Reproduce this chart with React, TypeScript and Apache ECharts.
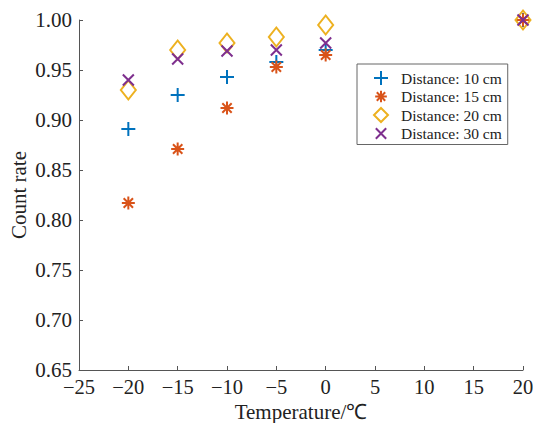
import React, { useEffect, useRef } from "react";
import * as echarts from "echarts";

const temperatures = [-20, -15, -10, -5, 0, 20];
const dist10 = [0.891, 0.925, 0.943, 0.958, 0.970, 1.0];
const dist15 = [0.817, 0.871, 0.912, 0.953, 0.965, 1.0];
const dist20 = [0.930, 0.970, 0.977, 0.983, 0.995, 1.0];
const dist30 = [0.940, 0.961, 0.969, 0.970, 0.977, 1.0];
const seriesNames = ["Distance: 10 cm", "Distance: 15 cm", "Distance: 20 cm", "Distance: 30 cm"];
const colors = ["#0072BD", "#D95319", "#EDB120", "#7E2F8E"];

const PLUS = "path://M0,-1L0,1M-1,0L1,0";
const STAR = "path://M0,-1L0,1M-1,0L1,0M-0.72,-0.72L0.72,0.72M-0.72,0.72L0.72,-0.72";
const DIAMOND = "path://M0,-1.3L1,0L0,1.3L-1,0Z";
const CROSS = "path://M-1,-1L1,1M-1,1L1,-1";
// legend icons (padded with invisible move-to points to get smaller marks)
const STAR_L = "path://M-1.2,-1.2M1.2,1.2M0,-1L0,1M-1,0L1,0M-0.72,-0.72L0.72,0.72M-0.72,0.72L0.72,-0.72";
const CROSS_L = "path://M-1.35,-1.35M1.35,1.35M-1,-1L1,1M-1,1L1,-1";
const DIAMOND_L = "path://M0,-1L1,0L0,1L-1,0Z";

const FONT = "'Liberation Serif', 'Times New Roman', serif";

export default function App() {
  const ref = useRef<HTMLDivElement>(null);
  useEffect(() => {
    if (!ref.current) return;
    const chart = echarts.init(ref.current, undefined, { renderer: "svg" });
    const all = [dist10, dist15, dist20, dist30];
    const symbols = [PLUS, STAR, DIAMOND, CROSS];
    const sizes: any[] = [14, 13, [15, 19], 11];
    const legendIcons = [PLUS, STAR_L, DIAMOND_L, CROSS_L];
    const fmtX = (v: number) => (v < 0 ? "\u2212" + Math.abs(v) : String(v));
    chart.setOption({
      animation: false,
      backgroundColor: "#ffffff",
      textStyle: { fontFamily: FONT },
      grid: { left: 79, right: 10, top: 20, bottom: 53, containLabel: false, outerBoundsMode: "none" },
      xAxis: {
        type: "value",
        min: -25,
        max: 20,
        interval: 5,
        name: "Temperature/\u2103",
        nameLocation: "middle",
        nameGap: 30,
        nameTextStyle: { fontFamily: FONT, fontSize: 21, color: "#222" },
        axisLine: { show: true, onZero: false, lineStyle: { color: "#555", width: 1 } },
        axisTick: { show: true, inside: true, length: 4, lineStyle: { color: "#555" } },
        axisLabel: { formatter: fmtX, fontFamily: FONT, fontSize: 20.5, color: "#222", margin: 6 },
        splitLine: { show: false },
      },
      yAxis: {
        type: "value",
        min: 0.65,
        max: 1.0,
        interval: 0.05,
        name: "Count rate",
        nameLocation: "middle",
        nameGap: 50,
        nameMoveOverlap: false,
        nameTextStyle: { fontFamily: FONT, fontSize: 21, color: "#222" },
        axisLine: { show: true, onZero: false, lineStyle: { color: "#555", width: 1 } },
        axisTick: { show: true, inside: true, length: 4, lineStyle: { color: "#555" } },
        axisLabel: { formatter: (v: number) => v.toFixed(2), fontFamily: FONT, fontSize: 21, color: "#222", margin: 7 },
        splitLine: { show: false },
      },
      legend: {
        left: 357,
        top: 64,
        orient: "vertical",
        itemWidth: 14,
        itemHeight: 14,
        itemGap: 2.5,
        padding: [6, 6, 3, 16],
        borderColor: "#666",
        borderWidth: 1,
        backgroundColor: "#fff",
        symbolKeepAspect: true,
        textStyle: { fontFamily: FONT, fontSize: 15.5, color: "#222", lineHeight: 14, padding: [0, 0, 0, 8] },
        data: seriesNames.map((n, i) => ({
          name: n,
          icon: legendIcons[i],
          itemStyle: { color: "transparent", borderColor: colors[i], borderWidth: 2 },
        })),
      },
      series: all.map((vals, i) => ({
        type: "scatter",
        name: seriesNames[i],
        data: temperatures.map((t, j) => [t, vals[j]]),
        symbol: symbols[i],
        symbolSize: sizes[i],
        clip: false,
        itemStyle: { color: "transparent", borderColor: colors[i], borderWidth: 2, opacity: 1 },
        emphasis: { disabled: true },
      })),
    });
    return () => chart.dispose();
  }, []);
  return (
    <div
      ref={ref}
      style={{ position: "fixed", left: 0, top: 0, width: 533, height: 423, background: "#fff" }}
    />
  );
}
